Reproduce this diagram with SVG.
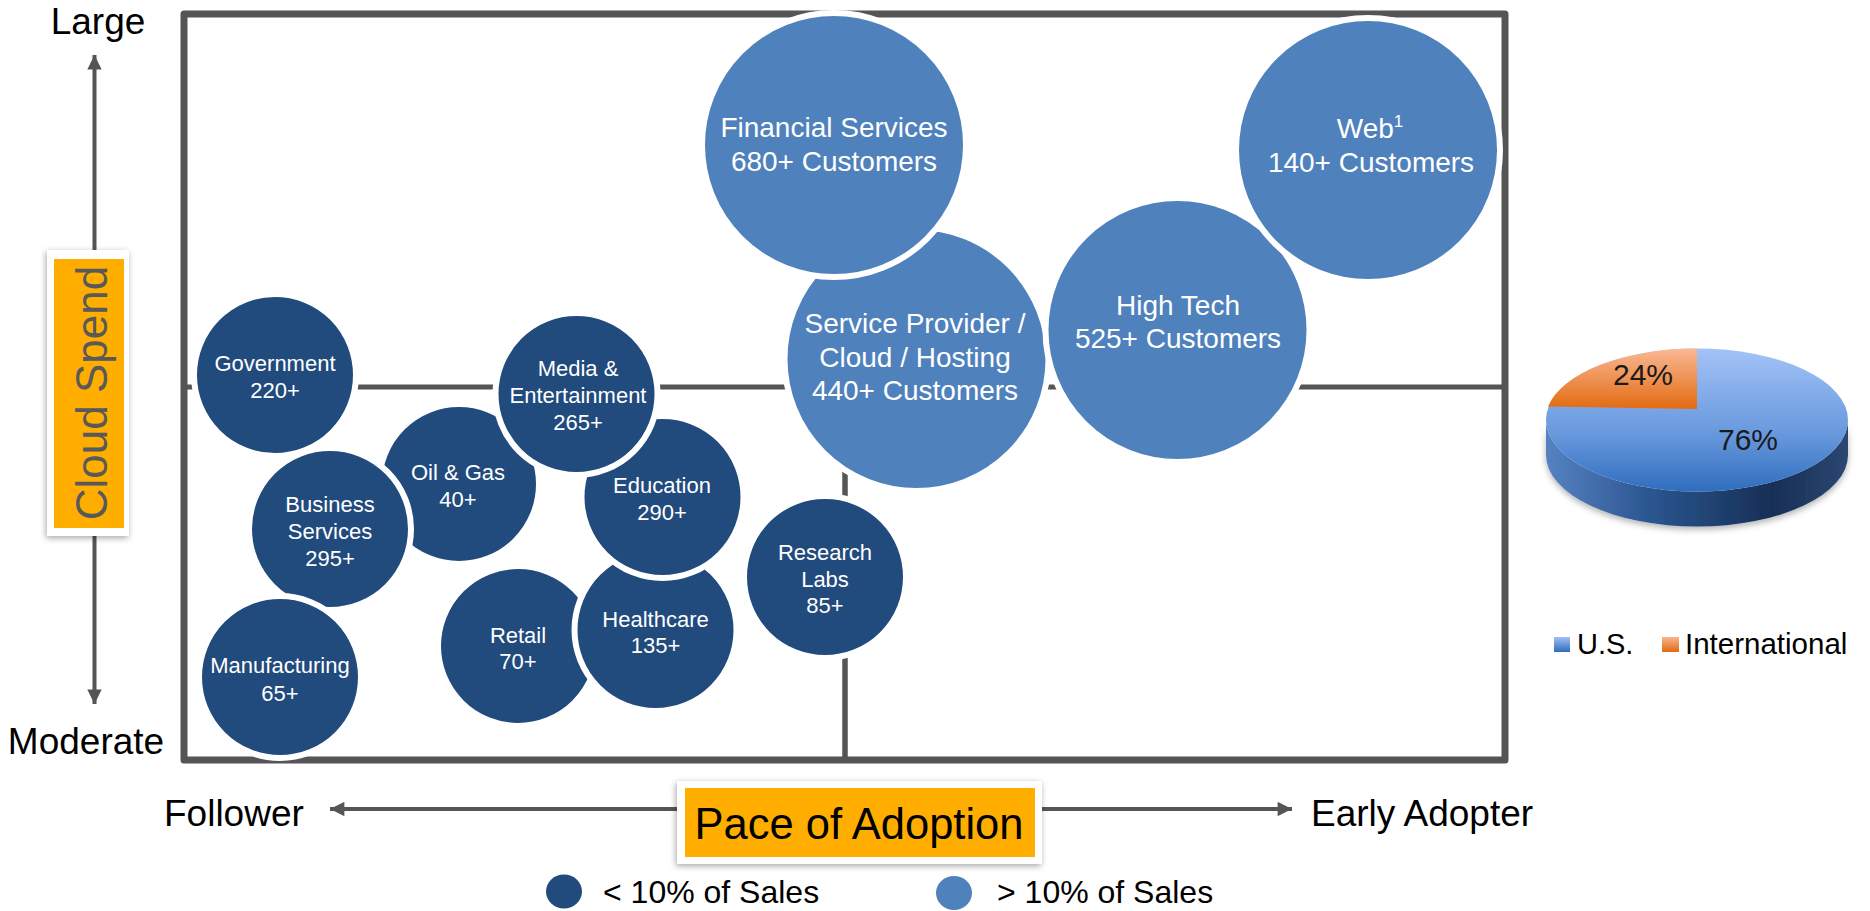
<svg xmlns="http://www.w3.org/2000/svg" width="1870" height="911" viewBox="0 0 1870 911">
<style>
  .lbl{font-family:"Liberation Sans",Arial,sans-serif;fill:#000}
  .ax{font-size:37px}
  .dark{fill:#214A7D;stroke:#fff;stroke-width:6}
  .light{fill:#4F81BD;stroke:#fff;stroke-width:6}
  .ct{font-family:"Liberation Sans",Arial,sans-serif;fill:#fff;text-anchor:middle}
  .sm{font-size:22px}
  .bg{font-size:28px}
  .ln{stroke:#555;fill:none}
</style>
<defs>
  <marker id="ah" viewBox="0 0 10 10" refX="10" refY="5" markerWidth="4" markerHeight="3.6" orient="auto-start-reverse" markerUnits="strokeWidth">
    <path d="M0,0 L10,5 L0,10 Z" fill="#555"/>
  </marker>
  <filter id="sh" x="-20%" y="-20%" width="140%" height="140%">
    <feDropShadow dx="-1" dy="2" stdDeviation="3" flood-color="#000" flood-opacity="0.35"/>
  </filter>
  <filter id="psh" x="-10%" y="-10%" width="120%" height="140%">
    <feDropShadow dx="0" dy="3" stdDeviation="3" flood-color="#000" flood-opacity="0.3"/>
  </filter>
  <linearGradient id="gTop" gradientUnits="userSpaceOnUse" x1="0" y1="349" x2="0" y2="492">
    <stop offset="0" stop-color="#a3c2f7"/>
    <stop offset="0.6" stop-color="#6798dd"/>
    <stop offset="1" stop-color="#2e6dbd"/>
  </linearGradient>
  <linearGradient id="gSide" gradientUnits="userSpaceOnUse" x1="1546" y1="0" x2="1848" y2="0">
    <stop offset="0" stop-color="#5682c2"/>
    <stop offset="0.35" stop-color="#2a558f"/>
    <stop offset="0.75" stop-color="#172f55"/>
    <stop offset="1" stop-color="#2b4772"/>
  </linearGradient>
  <linearGradient id="gOr" gradientUnits="userSpaceOnUse" x1="0" y1="349" x2="0" y2="410">
    <stop offset="0" stop-color="#f9b893"/>
    <stop offset="1" stop-color="#e2690f"/>
  </linearGradient>
  <linearGradient id="gUS" x1="0" y1="0" x2="0" y2="1">
    <stop offset="0" stop-color="#a0c0f6"/>
    <stop offset="1" stop-color="#2f6cbc"/>
  </linearGradient>
  <linearGradient id="gIN" x1="0" y1="0" x2="0" y2="1">
    <stop offset="0" stop-color="#f9b48c"/>
    <stop offset="1" stop-color="#e06a12"/>
  </linearGradient>
</defs>
<rect width="1870" height="911" fill="#fff"/>

<!-- axes / frame -->
<g id="frame">
  <rect x="184" y="14" width="1321" height="746" class="ln" stroke-width="7" stroke-linejoin="round"/>
  <line x1="184" y1="387" x2="1505" y2="387" class="ln" stroke-width="5"/>
  <line x1="845" y1="387" x2="845" y2="760" class="ln" stroke-width="5.5"/>
</g>

<g id="connectors">
  <line x1="94.5" y1="250" x2="94.5" y2="55" class="ln" stroke-width="4" marker-end="url(#ah)"/>
  <line x1="94.5" y1="536" x2="94.5" y2="704" class="ln" stroke-width="4" marker-end="url(#ah)"/>
  <line x1="680" y1="809" x2="330" y2="809" class="ln" stroke-width="4" marker-end="url(#ah)"/>
  <line x1="1040" y1="809" x2="1292" y2="809" class="ln" stroke-width="4" marker-end="url(#ah)"/>
</g>

<g id="axis-labels">
  <text class="lbl ax" x="98" y="34" text-anchor="middle">Large</text>
  <text class="lbl ax" x="86" y="754" text-anchor="middle">Moderate</text>
  <text class="lbl ax" x="164" y="826">Follower</text>
  <text class="lbl ax" x="1311" y="826">Early Adopter</text>
</g>

<g id="cloud-spend">
  <rect x="47" y="250" width="82" height="286" fill="#fff" filter="url(#sh)"/>
  <rect x="54" y="259" width="70" height="269" fill="#FFAE00"/>
  <text transform="translate(107,393) rotate(-90)" x="0" y="0" text-anchor="middle" style="font-family:'Liberation Sans',Arial,sans-serif;font-size:44px;fill:#595959">Cloud Spend</text>
</g>

<g id="pace-of-adoption">
  <rect x="677" y="781" width="365" height="83" fill="#fff" filter="url(#sh)"/>
  <rect x="685" y="788" width="350" height="69" fill="#FFAE00"/>
  <text class="lbl" x="859" y="839" text-anchor="middle" style="font-size:43.5px">Pace of Adoption</text>
</g>

<!-- bubbles -->
<g id="government"><circle class="dark" cx="275" cy="375" r="81"/><text class="ct sm" x="275" y="371">Government</text><text class="ct sm" x="275" y="398">220+</text></g>
<g id="oil-gas"><circle class="dark" cx="459" cy="484" r="80"/><text class="ct sm" x="458" y="480">Oil &amp; Gas</text><text class="ct sm" x="458" y="507">40+</text></g>
<g id="business-services"><circle class="dark" cx="330" cy="529" r="81"/><text class="ct sm" x="330" y="512">Business</text><text class="ct sm" x="330" y="539">Services</text><text class="ct sm" x="330" y="566">295+</text></g>
<g id="manufacturing"><circle class="dark" cx="280" cy="677" r="81"/><text class="ct sm" x="280" y="673">Manufacturing</text><text class="ct sm" x="280" y="701">65+</text></g>
<g id="retail"><circle class="dark" cx="518" cy="646" r="80"/><text class="ct sm" x="518" y="643">Retail</text><text class="ct sm" x="518" y="669">70+</text></g>
<g id="healthcare"><circle class="dark" cx="655.5" cy="630" r="81"/><text class="ct sm" x="655.5" y="627">Healthcare</text><text class="ct sm" x="655.5" y="653">135+</text></g>
<g id="education"><circle class="dark" cx="662.5" cy="497" r="81"/><text class="ct sm" x="662" y="493">Education</text><text class="ct sm" x="662" y="520">290+</text></g>
<g id="media"><circle class="dark" cx="576.5" cy="394" r="81"/><text class="ct sm" x="578" y="376">Media &amp;</text><text class="ct sm" x="578" y="403">Entertainment</text><text class="ct sm" x="578" y="430">265+</text></g>
<g id="research-labs"><circle class="dark" cx="825" cy="577" r="81"/><text class="ct sm" x="825" y="560">Research</text><text class="ct sm" x="825" y="587">Labs</text><text class="ct sm" x="825" y="613">85+</text></g>
<g id="service-provider"><circle class="light" cx="916.5" cy="359" r="132"/><text class="ct bg" x="915" y="333">Service Provider /</text><text class="ct bg" x="915" y="367">Cloud / Hosting</text><text class="ct bg" x="915" y="400">440+ Customers</text></g>
<g id="financial-services"><circle class="light" cx="834" cy="145" r="132"/><text class="ct bg" x="834" y="137">Financial Services</text><text class="ct bg" x="834" y="171">680+ Customers</text></g>
<g id="high-tech"><circle class="light" cx="1177.5" cy="330" r="132"/><text class="ct bg" x="1178" y="315">High Tech</text><text class="ct bg" x="1178" y="348">525+ Customers</text></g>
<g id="web"><circle class="light" cx="1368" cy="150" r="132"/><text class="ct bg" x="1370" y="138">Web<tspan font-size="17" dy="-11">1</tspan></text><text class="ct bg" x="1371" y="172">140+ Customers</text></g>

<!-- legend -->
<g id="legend">
  <ellipse cx="564" cy="891.5" rx="18" ry="17" fill="#214A7D"/>
  <text class="lbl" x="603" y="903" style="font-size:32px">&lt; 10% of Sales</text>
  <ellipse cx="954" cy="893" rx="18" ry="17" fill="#4F81BD"/>
  <text class="lbl" x="997" y="903" style="font-size:32px">&gt; 10% of Sales</text>
</g>

<!-- pie chart -->
<g id="pie">
  <path d="M1546,420 L1546,455 A151,71.5 0 0 0 1848,455 L1848,420 A151,71.5 0 0 1 1546,420 Z" fill="url(#gSide)" filter="url(#psh)"/>
  <ellipse cx="1697" cy="420" rx="151" ry="71.5" fill="url(#gTop)"/>
  <path d="M1697,409 L1548,406.5 A151,71.5 0 0 1 1697,348.5 Z" fill="url(#gOr)"/>
  <text class="lbl" x="1643" y="385" text-anchor="middle" style="font-size:30px;fill:#1a1a1a">24%</text>
  <text class="lbl" x="1748" y="450" text-anchor="middle" style="font-size:30px;fill:#1a1a1a">76%</text>
</g>
<g id="pie-legend">
  <rect x="1554" y="637" width="16" height="15" fill="url(#gUS)"/>
  <text class="lbl" x="1577" y="654" style="font-size:29px">U.S.</text>
  <rect x="1662" y="637" width="17" height="15" fill="url(#gIN)"/>
  <text class="lbl" x="1685" y="654" style="font-size:29.5px">International</text>
</g>
</svg>
